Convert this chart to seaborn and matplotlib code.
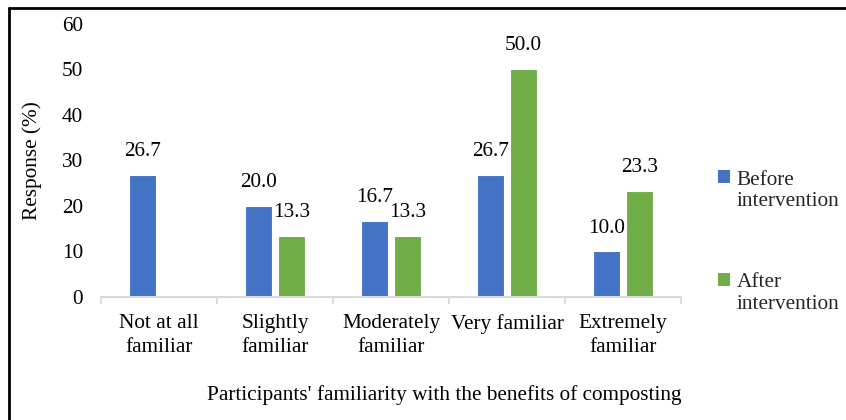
import numpy as np
import pandas as pd
import matplotlib
matplotlib.use("Agg")
import matplotlib.pyplot as plt
from matplotlib.lines import Line2D
from matplotlib.patches import Patch, Rectangle
from matplotlib.legend_handler import HandlerPatch
import seaborn as sns

categories = ["Not at all\nfamiliar", "Slightly\nfamiliar", "Moderately\nfamiliar",
              "Very familiar", "Extremely\nfamiliar"]
before_values = [26.7, 20.0, 16.7, 26.7, 10.0]
after_values = [0.0, 13.3, 13.3, 50.0, 23.3]
series_names = ["Before\nintervention", "After\nintervention"]
y_ticks = [0, 10, 20, 30, 40, 50, 60]

rows = []
for cat, b, a in zip(categories, before_values, after_values):
    rows.append({"category": cat, "series": series_names[0], "value": b})
    if a > 0:
        rows.append({"category": cat, "series": series_names[1], "value": a})
df = pd.DataFrame(rows)

sns.set_theme(style="white")
plt.rcParams["font.family"] = ["Liberation Serif", "DejaVu Serif"]
FS = 15.3

colors = {series_names[0]: "#4472C4", series_names[1]: "#70AD47"}

fig = plt.figure(figsize=(8.46, 4.2), dpi=100)
ax = fig.add_axes([0.1194, 0.2929, 0.805 - 0.1194, 0.944 - 0.2929])

sns.barplot(data=df, x="category", y="value", hue="series",
            order=categories, hue_order=series_names, palette=colors,
            saturation=1, width=0.57, gap=0.21, errorbar=None, ax=ax,
            edgecolor="white", linewidth=0.8, legend=False)

# value labels above bars
for container in ax.containers:
    labels = [f"{v:.1f}" if v > 0 else "" for v in container.datavalues]
    ax.bar_label(container, labels=labels, padding=10, fontsize=FS, color="black")

ax.set_ylim(0, 60)
ax.set_yticks(y_ticks)
ax.set_xlim(-0.5, len(categories) - 0.5)
ax.tick_params(axis="y", left=False, length=0, pad=13, labelsize=FS, colors="black")
ax.tick_params(axis="x", bottom=False, length=0, pad=12, labelsize=FS, colors="black")
for lbl in ax.get_xticklabels():
    lbl.set_linespacing(1.38)

# category separators on the x axis
ax.set_xticks(np.arange(len(categories) + 1) - 0.5, minor=True)
ax.tick_params(axis="x", which="minor", bottom=True, length=5, width=1.3,
               color="#D9D9D9", direction="out")

for side in ["top", "right", "left"]:
    ax.spines[side].set_visible(False)
ax.spines["bottom"].set_color("#D9D9D9")
ax.spines["bottom"].set_linewidth(1.5)

ax.set_ylabel("Response (%)", fontsize=FS, labelpad=14, color="black")
ax.set_xlabel("Participants' familiarity with the benefits of composting",
              fontsize=FS, color="black")
ax.xaxis.set_label_coords(0.592, -0.322)


def square_on_first_line(legend, orig_handle, xdescent, ydescent, width, height, fontsize):
    # lift the marker so it sits beside the first line of a two-line label
    return Rectangle((-xdescent, -ydescent + 0.66 * fontsize), width, height)


handles = [Patch(facecolor=colors[s], edgecolor="none") for s in series_names]
fig.legend(handles, series_names, loc="upper left", bbox_to_anchor=(0.849, 0.594),
           frameon=False, fontsize=FS, handlelength=0.55, handleheight=0.55,
           handletextpad=0.3, labelspacing=2.92, borderaxespad=0, borderpad=0,
           handler_map={Patch: HandlerPatch(patch_func=square_on_first_line)})

# outer frame
fig.add_artist(Line2D([0.011, 0.011], [0, 0.981], transform=fig.transFigure,
                      color="black", linewidth=2.0))
fig.add_artist(Line2D([0.011, 1.0], [0.981, 0.981], transform=fig.transFigure,
                      color="black", linewidth=2.0))

fig.savefig("out.png", dpi=100)
